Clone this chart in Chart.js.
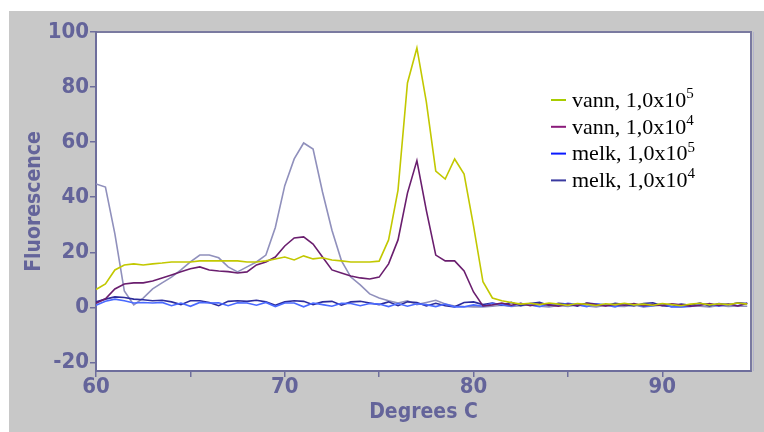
<!DOCTYPE html>
<html>
<head>
<meta charset="utf-8">
<script src="https://cdn.jsdelivr.net/npm/chart.js@4/dist/chart.umd.min.js"></script>
<style>
  html, body { margin: 0; padding: 0; background: #fff; }
  #wrap { width: 764px; height: 432px; }
</style>
</head>
<body>
<div id="wrap"><canvas id="myChart" width="764" height="432"></canvas></div>
<script>
// temperatures (degrees C), shared by all curves
const temps = [60, 60.5, 61, 61.5, 62, 62.5, 63, 63.5, 64, 64.5,
  65, 65.5, 66, 66.5, 67, 67.5, 68, 68.5, 69, 69.5,
  70, 70.5, 71, 71.5, 72, 72.5, 73, 73.5, 74, 74.5,
  75, 75.5, 76, 76.5, 77, 77.5, 78, 78.5, 79, 79.5,
  80, 80.5, 81, 81.5, 82, 82.5, 83, 83.5, 84, 84.5,
  85, 85.5, 86, 86.5, 87, 87.5, 88, 88.5, 89, 89.5,
  90, 90.5, 91, 91.5, 92, 92.5, 93, 93.5, 94, 94.5];

const vann5 = [6.5, 8.5, 13.6, 15.4, 15.8, 15.4, 15.8, 16.1, 16.5, 16.5,
  16.5, 16.9, 16.9, 16.9, 16.9, 16.9, 16.5, 16.5, 16.9, 17.6,
  18.3, 17.2, 18.7, 17.6, 18.0, 17.2, 16.9, 16.5, 16.5, 16.5,
  16.8, 24.5, 42.6, 81.5, 94.2, 74.6, 49.5, 46.6, 53.9, 48.4,
  29.6, 9.3, 3.4, 2.4, 1.8, 1.2, 1.5, 1.0, 1.6, 1.2,
  0.8, 1.4, 1.1, 0.7, 1.3, 1.0, 1.5, 0.9, 1.2, 0.8,
  1.4, 1.0, 0.6, 1.2, 1.5, 0.9, 1.3, 1.0, 1.6, 1.2];

const vann4 = [1.5, 3.1, 6.7, 8.5, 8.9, 8.9, 9.6, 10.7, 11.8, 12.9,
  14.0, 14.7, 13.6, 13.2, 13.0, 12.5, 12.9, 15.4, 16.5, 18.3,
  22.3, 25.2, 25.6, 23.0, 18.3, 13.6, 12.5, 11.4, 10.7, 10.3,
  11.0, 15.8, 24.5, 41.5, 53.3, 35.2, 19.0, 16.9, 16.9, 13.2,
  5.6, 0.5, 0.9, 1.6, 0.8, 1.5, 0.6, 1.3, 0.9, 0.4,
  1.2, 0.7, 1.5, 1.0, 0.5, 1.1, 0.8, 1.4, 0.6, 1.0,
  0.7, 1.3, 0.9, 0.4, 0.8, 1.4, 0.7, 1.2, 0.5, 1.5];

const melk5 = [0.8, 2.2, 3.0, 2.4, 1.6, 1.8, 1.6, 1.8, 0.6, 1.6,
  0.4, 1.8, 1.6, 1.7, 0.6, 1.7, 1.6, 0.8, 1.8, 0.3,
  1.6, 1.6, 0.2, 1.6, 1.0, 0.4, 1.5, 1.4, 0.6, 1.4,
  1.2, 0.3, 1.4, 0.4, 1.3, 1.0, 0.3, 1.2, 0.2, 0.2,
  0.9, 0.4, 1.5, 1.0, 0.4, 1.4, 0.9, 0.3, 1.2, 0.7,
  1.5, 1.0, 0.3, 1.3, 0.9, 0.2, 1.2, 1.1, 0.3, 0.6,
  1.3, 0.2, 0.2, 0.3, 1.0, 1.3, 0.4, 1.2, 0.6, 1.5];

const melk4 = [2.0, 3.0, 3.8, 3.6, 3.0, 2.8, 2.4, 2.6, 2.0, 1.0,
  2.4, 2.4, 1.8, 0.6, 2.2, 2.4, 2.2, 2.6, 2.0, 0.8,
  2.0, 2.4, 2.2, 1.0, 2.0, 2.2, 0.8, 2.0, 2.2, 1.6,
  1.0, 2.0, 0.6, 2.0, 1.8, 0.5, 1.5, 0.6, 0.2, 1.8,
  2.0, 1.0, 1.6, 0.8, 1.8, 0.6, 1.4, 1.8, 0.7, 1.5,
  1.2, 0.4, 1.6, 1.2, 0.6, 1.5, 1.0, 0.5, 1.4, 1.7,
  0.6, 0.3, 1.2, 0.8, 1.6, 0.5, 1.4, 0.9, 1.7, 1.4];

// unlabelled grey curve
const other = [44.8, 43.7, 26.7, 6.0, 0.9, 3.4, 6.7, 8.9, 11.0, 13.6,
  16.5, 19.0, 19.0, 18.0, 14.7, 12.9, 14.7, 16.5, 19.0, 29.0,
  44.2, 53.9, 59.7, 57.5, 41.9, 28.0, 17.0, 11.0, 8.2, 4.9,
  3.4, 2.4, 1.6, 2.4, 1.0, 1.8, 2.6, 1.2, 0.5, 0.3,
  0.2, 0.2, 0.4, 0.8, 0.3, 0.6, 1.0, 0.4, 0.2, 0.7,
  0.3, 0.9, 0.5, 0.2, 0.8, 0.4, 0.3, 0.9, 0.2, 0.5,
  0.8, 0.3, 0.2, 0.6, 0.4, 0.2, 0.7, 0.3, 0.5, 0.4];

const xTicks = [60, 70, 80, 90];
const yTicks = [-20, 0, 20, 40, 60, 80, 100];

const axisColor = '#6e6e9c';
const tickFont = { family: "'Liberation Sans Narrow', 'Arial Narrow', 'DejaVu Sans Condensed', sans-serif", size: 22, weight: 'bold' };

function pts(vals) {
  return temps.map((t, i) => ({ x: t, y: vals[i] }));
}

// grey panel + white plot box
const panel = {
  id: 'panel',
  beforeDraw(chart) {
    const c = chart.ctx, a = chart.chartArea;
    c.save();
    c.fillStyle = '#fff';
    c.fillRect(0, 0, chart.width, chart.height);
    c.fillStyle = '#c8c8c8';
    c.fillRect(9, 11, chart.width - 9, chart.height - 11);
    c.fillStyle = '#fff';
    c.fillRect(a.left, a.top, a.right - a.left, a.bottom - a.top);
    c.strokeStyle = '#7a7aa0';
    c.lineWidth = 2;
    c.strokeRect(a.left, a.top, a.right - a.left, a.bottom - a.top);
    c.strokeStyle = '#b4b4cc';
    c.lineWidth = 1;
    c.beginPath();
    c.moveTo(a.right + 2.5, a.top);
    c.lineTo(a.right + 2.5, a.bottom);
    c.stroke();
    c.restore();
  }
};

// legend inside the plot, exponent drawn raised
const sideLegend = {
  id: 'sideLegend',
  afterDraw(chart) {
    const c = chart.ctx;
    const sup = { '⁴': '4', '⁵': '5' };
    let y = 100;
    c.save();
    chart.data.datasets.forEach(ds => {
      if (!ds.label) return;
      c.strokeStyle = ds.legendColor;
      c.lineWidth = 2;
      c.beginPath();
      c.moveTo(551, y);
      c.lineTo(566, y);
      c.stroke();
      let txt = ds.label, ex = '';
      const last = txt.slice(-1);
      if (sup[last]) { ex = sup[last]; txt = txt.slice(0, -1); }
      c.fillStyle = '#000';
      c.textBaseline = 'middle';
      c.font = "22px 'Liberation Serif', 'Times New Roman', serif";
      c.fillText(txt, 572, y + 1);
      const w = c.measureText(txt).width;
      c.font = "15px 'Liberation Serif', 'Times New Roman', serif";
      c.fillText(ex, 572 + w, y - 6);
      y += 26.8;
    });
    c.restore();
  }
};

var ctx = document.getElementById('myChart');

var myChart = new Chart(ctx, {
  type: 'line',
  data: {
    datasets: [
      { label: 'vann, 1,0x10⁵', data: pts(vann5), borderColor: '#c2c800', legendColor: '#a8cc00' },
      { label: 'vann, 1,0x10⁴', data: pts(vann4), borderColor: '#6a1e6e', legendColor: '#8a1a7a' },
      { label: 'melk, 1,0x10⁵', data: pts(melk5), borderColor: '#4a6aff', legendColor: '#0a1aff' },
      { label: 'melk, 1,0x10⁴', data: pts(melk4), borderColor: '#2c2c9c', legendColor: '#3a3aa0' },
      { label: '', data: pts(other), borderColor: '#9090bc' }
    ]
  },
  options: {
    responsive: false,
    animation: false,
    elements: {
      line: { borderWidth: 1.6, tension: 0, fill: false },
      point: { radius: 0 }
    },
    layout: { padding: { left: 0, top: 32, right: 13, bottom: 0 } },
    plugins: {
      legend: { display: false },
      tooltip: { enabled: false }
    },
    scales: {
      x: {
        type: 'linear',
        min: 60,
        max: 94.7,
        afterFit: s => { s.height = 61; },
        afterBuildTicks: s => { s.ticks = [60, 65, 70, 75, 80, 85, 90].map(v => ({ value: v })); },
        ticks: {
          color: '#64649a',
          font: tickFont,
          padding: -3,
          maxRotation: 0,
          callback: v => xTicks.includes(v) ? String(v) : ''
        },
        grid: { drawOnChartArea: false, color: axisColor, tickLength: 6, lineWidth: 1.5 },
        border: { color: axisColor, width: 2 },
        title: {
          display: true,
          text: 'Degrees C',
          color: '#64649a',
          font: { family: tickFont.family, size: 21, weight: 'bold' },
          padding: { top: 0, bottom: 7 }
        }
      },
      y: {
        min: -23.1,
        max: 100,
        afterFit: s => { s.width = 96; },
        afterBuildTicks: s => { s.ticks = [-20, -10, 0, 10, 20, 30, 40, 50, 60, 70, 80, 90, 100].map(v => ({ value: v })); },
        ticks: {
          color: '#64649a',
          font: tickFont,
          padding: 1,
          callback: v => yTicks.includes(v) ? String(v) : ''
        },
        grid: { drawOnChartArea: false, color: axisColor, tickLength: 6, lineWidth: 1.5 },
        border: { color: axisColor, width: 2 },
        title: {
          display: true,
          text: 'Fluorescence',
          color: '#64649a',
          font: { family: tickFont.family, size: 21, weight: 'bold' },
          padding: { top: 22, bottom: 0 }
        }
      }
    }
  },
  plugins: [panel, sideLegend]
});
</script>
</body>
</html>
